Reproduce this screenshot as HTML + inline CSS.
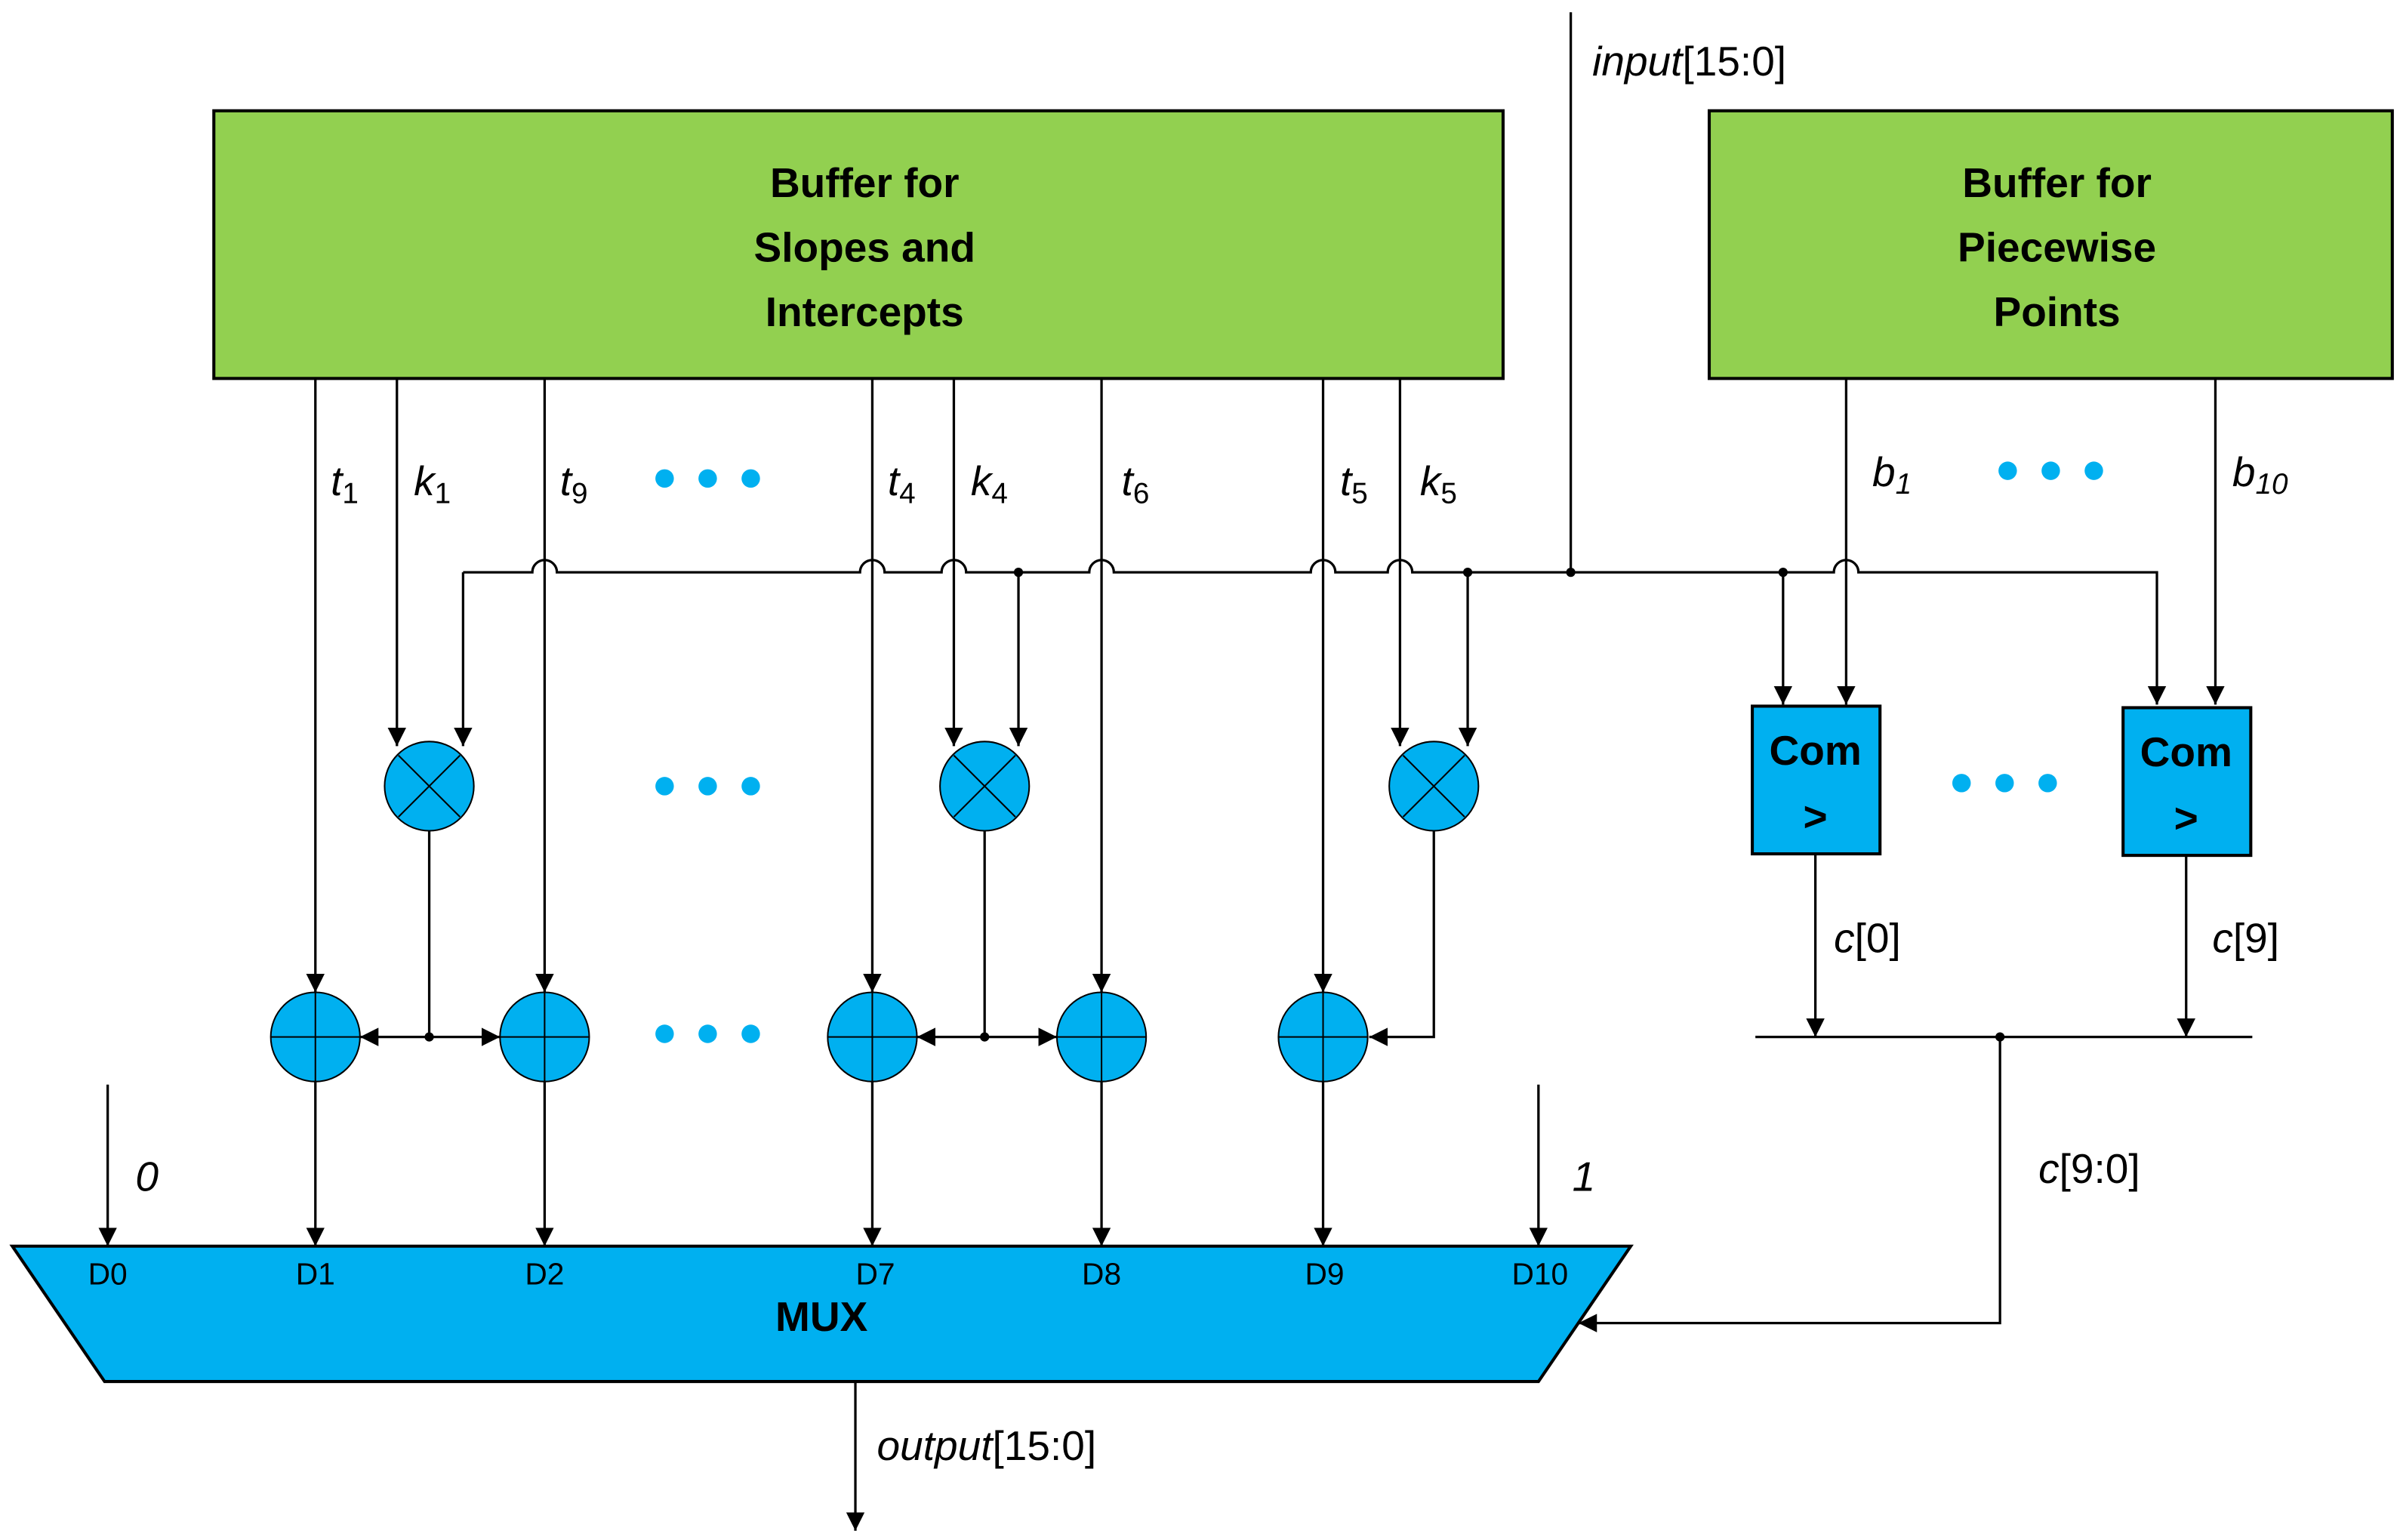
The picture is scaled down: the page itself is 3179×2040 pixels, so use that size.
<!DOCTYPE html>
<html><head><meta charset="utf-8"><style>html,body{margin:0;padding:0;background:#fff}svg{display:block}</style></head><body>
<svg width="3179" height="2040" viewBox="0 0 1560 1001" preserveAspectRatio="none" xmlns="http://www.w3.org/2000/svg">
<defs><marker id="a" viewBox="0 0 10 10" refX="10" refY="5" markerWidth="12" markerHeight="12" markerUnits="userSpaceOnUse" orient="auto"><path d="M0,0L10,5L0,10z" fill="#000"/></marker></defs>
<g font-family="Liberation Sans, sans-serif">
<rect x="139" y="72" width="838" height="174" fill="#92d050" stroke="#000" stroke-width="2"/>
<rect x="1111" y="72" width="444" height="174" fill="#92d050" stroke="#000" stroke-width="2"/>
<g font-weight="bold" font-size="27" text-anchor="middle">
<text x="562" y="128">Buffer for</text><text x="562" y="170">Slopes and</text><text x="562" y="212">Intercepts</text>
<text x="1337" y="128">Buffer for</text><text x="1337" y="170">Piecewise</text><text x="1337" y="212">Points</text>
</g>
<g stroke="#000" stroke-width="1.6" fill="none">
<line x1="1021" y1="8" x2="1021" y2="372"/>
<path d="M301,372 H346 a8,8 0 0 1 16,0 H559 a8,8 0 0 1 16,0 H612 a8,8 0 0 1 16,0 H708 a8,8 0 0 1 16,0 H852 a8,8 0 0 1 16,0 H902 a8,8 0 0 1 16,0 H1192 a8,8 0 0 1 16,0 H1402 V458" marker-end="url(#a)"/>
<line x1="301" y1="372" x2="301" y2="485" marker-end="url(#a)"/>
<line x1="205" y1="246" x2="205" y2="645" marker-end="url(#a)"/>
<line x1="258" y1="246" x2="258" y2="485" marker-end="url(#a)"/>
<line x1="354" y1="246" x2="354" y2="645" marker-end="url(#a)"/>
<line x1="567" y1="246" x2="567" y2="645" marker-end="url(#a)"/>
<line x1="620" y1="246" x2="620" y2="485" marker-end="url(#a)"/>
<line x1="716" y1="246" x2="716" y2="645" marker-end="url(#a)"/>
<line x1="860" y1="246" x2="860" y2="645" marker-end="url(#a)"/>
<line x1="910" y1="246" x2="910" y2="485" marker-end="url(#a)"/>
<line x1="662" y1="372" x2="662" y2="485" marker-end="url(#a)"/>
<line x1="954" y1="372" x2="954" y2="485" marker-end="url(#a)"/>
<line x1="1159" y1="372" x2="1159" y2="458" marker-end="url(#a)"/>
<line x1="1200" y1="246" x2="1200" y2="458" marker-end="url(#a)"/>
<line x1="1440" y1="246" x2="1440" y2="458" marker-end="url(#a)"/>
<line x1="279" y1="540" x2="279" y2="674"/>
<line x1="279" y1="674" x2="234" y2="674" marker-end="url(#a)"/>
<line x1="279" y1="674" x2="325" y2="674" marker-end="url(#a)"/>
<line x1="640" y1="540" x2="640" y2="674"/>
<line x1="640" y1="674" x2="596" y2="674" marker-end="url(#a)"/>
<line x1="640" y1="674" x2="687" y2="674" marker-end="url(#a)"/>
<path d="M932,540 V674 H890" marker-end="url(#a)"/>
<line x1="205" y1="703" x2="205" y2="810" marker-end="url(#a)"/>
<line x1="354" y1="703" x2="354" y2="810" marker-end="url(#a)"/>
<line x1="567" y1="703" x2="567" y2="810" marker-end="url(#a)"/>
<line x1="716" y1="703" x2="716" y2="810" marker-end="url(#a)"/>
<line x1="860" y1="703" x2="860" y2="810" marker-end="url(#a)"/>
<line x1="70" y1="705" x2="70" y2="810" marker-end="url(#a)"/>
<line x1="1000" y1="705" x2="1000" y2="810" marker-end="url(#a)"/>
<line x1="1180" y1="555" x2="1180" y2="674" marker-end="url(#a)"/>
<line x1="1421" y1="556" x2="1421" y2="674" marker-end="url(#a)"/>
<line x1="1141" y1="674" x2="1464" y2="674"/>
<path d="M1300,674 V860 H1026" marker-end="url(#a)"/>
<line x1="556" y1="898" x2="556" y2="995" marker-end="url(#a)"/>
</g>
<g fill="#000"><circle cx="662" cy="372" r="3"/><circle cx="954" cy="372" r="3"/><circle cx="1021" cy="372" r="3"/><circle cx="1159" cy="372" r="3"/><circle cx="279" cy="674" r="3"/><circle cx="640" cy="674" r="3"/><circle cx="1300" cy="674" r="3"/></g>
<g fill="#00b0f0" stroke="#000" stroke-width="1">
<g><ellipse cx="279" cy="511" rx="29" ry="29"/><path d="M259,491L299,531M299,491L259,531"/></g>
<g><ellipse cx="640" cy="511" rx="29" ry="29"/><path d="M620,491L660,531M660,491L620,531"/></g>
<g><ellipse cx="932" cy="511" rx="29" ry="29"/><path d="M912,491L952,531M952,491L912,531"/></g>
<g><ellipse cx="205" cy="674" rx="29" ry="29"/><path d="M176,674H234M205,645V703"/></g>
<g><ellipse cx="354" cy="674" rx="29" ry="29"/><path d="M325,674H383M354,645V703"/></g>
<g><ellipse cx="567" cy="674" rx="29" ry="29"/><path d="M538,674H596M567,645V703"/></g>
<g><ellipse cx="716" cy="674" rx="29" ry="29"/><path d="M687,674H745M716,645V703"/></g>
<g><ellipse cx="860" cy="674" rx="29" ry="29"/><path d="M831,674H889M860,645V703"/></g>
<rect x="1139" y="459" width="83" height="96" stroke-width="2"/>
<rect x="1380" y="460" width="83" height="96" stroke-width="2"/>
<polygon points="8,810 1060,810 1000,898 68,898" stroke-width="2"/>
</g>
<g fill="#00b0f0">
<circle cx="432" cy="311" r="6"/><circle cx="460" cy="311" r="6"/><circle cx="488" cy="311" r="6"/>
<circle cx="432" cy="511" r="6"/><circle cx="460" cy="511" r="6"/><circle cx="488" cy="511" r="6"/>
<circle cx="432" cy="672" r="6"/><circle cx="460" cy="672" r="6"/><circle cx="488" cy="672" r="6"/>
<circle cx="1305" cy="306" r="6"/><circle cx="1333" cy="306" r="6"/><circle cx="1361" cy="306" r="6"/>
<circle cx="1275" cy="509" r="6"/><circle cx="1303" cy="509" r="6"/><circle cx="1331" cy="509" r="6"/>
</g>
<g font-weight="bold" font-size="27" text-anchor="middle">
<text x="1180" y="497">Com</text><text x="1180" y="540">&gt;</text>
<text x="1421" y="498">Com</text><text x="1421" y="541">&gt;</text>
<text x="534" y="865">MUX</text>
</g>
<g font-size="20" text-anchor="middle">
<text x="70" y="835">D0</text><text x="205" y="835">D1</text><text x="354" y="835">D2</text><text x="569" y="835">D7</text><text x="716" y="835">D8</text><text x="861" y="835">D9</text><text x="1001" y="835">D10</text>
</g>
<g font-size="27">
<text x="1035" y="49"><tspan font-style="italic">input</tspan>[15:0]</text>
<text x="570" y="949"><tspan font-style="italic">output</tspan>[15:0]</text>
<text x="1192" y="619"><tspan font-style="italic">c</tspan>[0]</text>
<text x="1438" y="619"><tspan font-style="italic">c</tspan>[9]</text>
<text x="1325" y="769"><tspan font-style="italic">c</tspan>[9:0]</text>
<text x="88" y="774" font-style="italic">0</text>
<text x="1022" y="774" font-style="italic">1</text>
<text x="215" y="322" font-style="italic">t<tspan font-style="normal" font-size="19" dy="5">1</tspan></text>
<text x="269" y="322" font-style="italic">k<tspan font-style="normal" font-size="19" dy="5">1</tspan></text>
<text x="364" y="322" font-style="italic">t<tspan font-style="normal" font-size="19" dy="5">9</tspan></text>
<text x="577" y="322" font-style="italic">t<tspan font-style="normal" font-size="19" dy="5">4</tspan></text>
<text x="631" y="322" font-style="italic">k<tspan font-style="normal" font-size="19" dy="5">4</tspan></text>
<text x="729" y="322" font-style="italic">t<tspan font-style="normal" font-size="19" dy="5">6</tspan></text>
<text x="871" y="322" font-style="italic">t<tspan font-style="normal" font-size="19" dy="5">5</tspan></text>
<text x="923" y="322" font-style="italic">k<tspan font-style="normal" font-size="19" dy="5">5</tspan></text>
<text x="1217" y="316" font-style="italic">b<tspan font-size="19" dy="5">1</tspan></text>
<text x="1451" y="316" font-style="italic">b<tspan font-size="19" dy="5">10</tspan></text>
</g>
</g>
</svg>
</body></html>
